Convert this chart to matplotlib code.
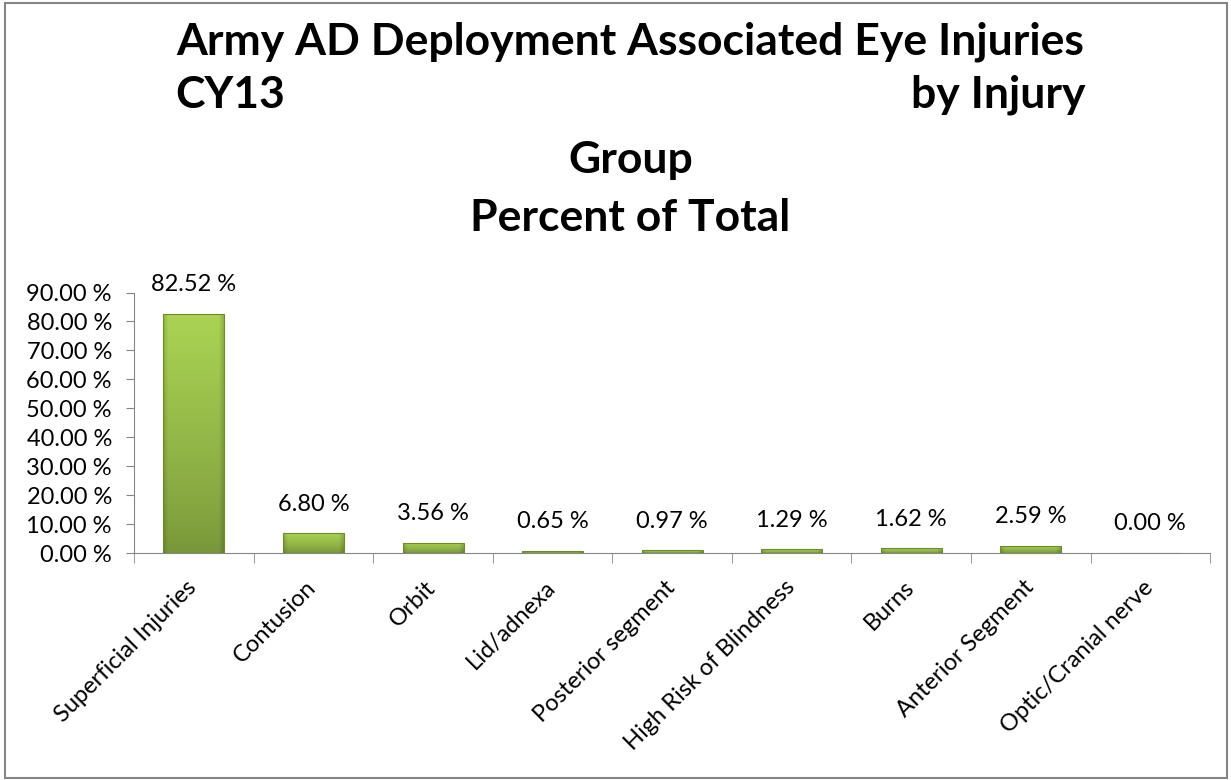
import matplotlib.pyplot as plt
import numpy as np
from matplotlib.patches import Rectangle
from matplotlib.colors import to_rgb
from matplotlib.transforms import ScaledTranslation

categories = ["Superficial Injuries", "Contusion", "Orbit", "Lid/adnexa",
              "Posterior segment", "High Risk of Blindness", "Burns",
              "Anterior Segment", "Optic/Cranial nerve"]
values = [82.52, 6.80, 3.56, 0.65, 0.97, 1.29, 1.62, 2.59, 0.00]
yticks = [0, 10, 20, 30, 40, 50, 60, 70, 80, 90]

plt.rcParams['font.family'] = ['Lato', 'DejaVu Sans']

fig = plt.figure(figsize=(12.31, 7.8), dpi=100)
ax = fig.add_axes([0.109, 0.291, 0.874, 0.334])

x = np.arange(len(categories))
bars = ax.bar(x, values, width=0.51, color='none', edgecolor='#6e8a2c', linewidth=0.8, zorder=3)

# gradient fill for each bar (light top, darker olive bottom, shaded sides)
light = np.array(to_rgb('#aad353'))
dark = np.array(to_rgb('#78963a'))
ny, nx = 200, 60
t = np.linspace(0, 1, ny)[:, None, None] ** 0.8
grad = dark + (light - dark) * t
u = np.linspace(0, 1, nx)[None, :, None]
side = 1 - 0.15 * (np.clip(1 - u / 0.08, 0, 1) + np.clip(1 - (1 - u) / 0.08, 0, 1))
img = np.clip(grad * side, 0, 1)
for b in bars:
    if b.get_height() <= 0:
        continue
    x0, w, h = b.get_x(), b.get_width(), b.get_height()
    im = ax.imshow(img, extent=(x0, x0 + w, 0, h), origin='lower', aspect='auto', zorder=2)
    im.set_clip_path(b)

for xi, v in zip(x, values):
    ax.annotate(f"{v:.2f} %", (xi, v), xytext=(0, 21), textcoords='offset points',
                ha='center', va='center', fontsize=17)

ax.set_xlim(-0.5, len(categories) - 0.5)
ax.set_ylim(0, 90)
ax.set_yticks(yticks)
ax.set_yticklabels([f"{t:.2f} %" for t in yticks], fontsize=17)
ax.set_xticks(x)
ax.set_xticklabels(categories, rotation=45, ha='right', va='top',
                   rotation_mode='anchor', fontsize=17)
ax.set_xticks(np.arange(-0.5, len(categories), 1.0), minor=True)
ax.tick_params(axis='x', which='major', length=0, pad=17)
ax.tick_params(axis='x', which='minor', length=7, color='#868686')
ax.tick_params(axis='y', length=6, color='#868686', pad=10)
shift = ScaledTranslation(-8 / 100, 0, fig.dpi_scale_trans)
for lbl in ax.get_xticklabels():
    lbl.set_transform(lbl.get_transform() + shift)

for s in ['top', 'right']:
    ax.spines[s].set_visible(False)
for s in ['left', 'bottom']:
    ax.spines[s].set_color('#868686')

fig.text(0.512, 0.946, "Army AD Deployment Associated Eye Injuries", ha='center', va='center',
         fontsize=32, fontweight='bold')
fig.text(0.142, 0.878, "CY13", ha='left', va='center', fontsize=32, fontweight='bold')
fig.text(0.882, 0.878, "by Injury", ha='right', va='center', fontsize=32, fontweight='bold')
fig.text(0.512, 0.795, "Group", ha='center', va='center', fontsize=32, fontweight='bold')
fig.text(0.512, 0.72, "Percent of Total", ha='center', va='center', fontsize=32, fontweight='bold')

fig.patches.append(Rectangle((0.004, 0.002), 0.993, 0.994, transform=fig.transFigure,
                             fill=False, edgecolor='#868686', linewidth=1.5))

fig.savefig('out.png', dpi=100)
